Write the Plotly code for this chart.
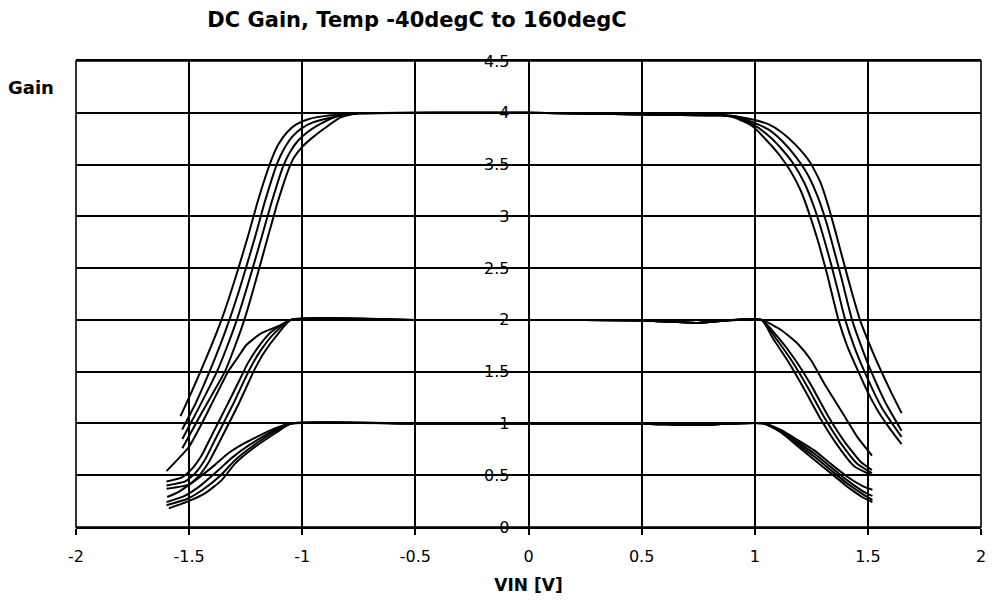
import plotly.graph_objects as go

# ---------------- data ----------------
temps = ["-40degC", "27degC", "85degC", "160degC"]

# Gain = 4 setting, one curve per temperature (T1 = widest ... T4 = narrowest)
g4_t1_x = [-1.538, -1.49, -1.45, -1.40, -1.357, -1.318, -1.282, -1.237, -1.196, -1.163, -1.132, -1.104, -1.068, -1.025, -0.97, -0.895, -0.82, -0.75,
           -0.4, 0.0, 0.3, 0.6, 0.85, 0.92, 0.99, 1.06, 1.12, 1.185, 1.245, 1.29, 1.325, 1.357, 1.39, 1.426, 1.465, 1.51, 1.56, 1.603, 1.649]
g4_t1_y = [1.07, 1.30, 1.5, 1.76, 2.0, 2.25, 2.5, 2.83, 3.15, 3.38, 3.57, 3.70, 3.81, 3.89, 3.94, 3.97, 3.985, 3.995,
           4.0, 4.0, 3.99, 3.98, 3.975, 3.965, 3.935, 3.89, 3.81, 3.68, 3.52, 3.33, 3.10, 2.85, 2.58, 2.29, 2.0, 1.75, 1.5, 1.30, 1.10]
g4_t2_x = [-1.531, -1.47, -1.41, -1.362, -1.322, -1.284, -1.249, -1.206, -1.167, -1.136, -1.109, -1.081, -1.044, -1.003, -0.95, -0.88, -0.81, -0.75,
           -0.4, 0.0, 0.3, 0.6, 0.85, 0.92, 0.99, 1.06, 1.12, 1.18, 1.235, 1.28, 1.318, 1.352, 1.385, 1.412, 1.43, 1.47, 1.515, 1.578, 1.649]
g4_t2_y = [0.94, 1.20, 1.5, 1.76, 2.0, 2.25, 2.5, 2.82, 3.13, 3.35, 3.52, 3.65, 3.77, 3.85, 3.91, 3.95, 3.98, 3.995,
           4.0, 4.0, 3.99, 3.98, 3.975, 3.962, 3.91, 3.84, 3.73, 3.58, 3.40, 3.18, 2.93, 2.66, 2.39, 2.15, 2.0, 1.75, 1.5, 1.20, 0.93]
g4_t3_x = [-1.53, -1.455, -1.377, -1.329, -1.289, -1.253, -1.219, -1.178, -1.139, -1.111, -1.085, -1.057, -1.019, -0.979, -0.922, -0.86, -0.795, -0.75,
           -0.4, 0.0, 0.3, 0.6, 0.85, 0.915, 0.99, 1.055, 1.115, 1.17, 1.22, 1.262, 1.30, 1.336, 1.368, 1.40, 1.44, 1.485, 1.562, 1.649]
g4_t3_y = [0.85, 1.16, 1.5, 1.76, 2.0, 2.25, 2.5, 2.81, 3.11, 3.31, 3.48, 3.61, 3.73, 3.81, 3.89, 3.955, 3.985, 3.995,
           4.0, 4.0, 3.99, 3.98, 3.975, 3.958, 3.89, 3.79, 3.66, 3.51, 3.32, 3.09, 2.83, 2.55, 2.28, 2.0, 1.74, 1.5, 1.15, 0.87]
g4_t4_x = [-1.53, -1.44, -1.342, -1.295, -1.256, -1.222, -1.19, -1.152, -1.115, -1.088, -1.063, -1.036, -0.996, -0.955, -0.895, -0.835, -0.78, -0.75,
           -0.4, 0.0, 0.3, 0.6, 0.85, 0.91, 0.99, 1.05, 1.11, 1.16, 1.205, 1.245, 1.285, 1.32, 1.347, 1.37, 1.41, 1.458, 1.50, 1.55, 1.60, 1.649]
g4_t4_y = [0.76, 1.12, 1.5, 1.76, 2.0, 2.25, 2.5, 2.80, 3.09, 3.28, 3.44, 3.57, 3.68, 3.76, 3.86, 3.95, 3.985, 3.995,
           4.0, 4.0, 3.99, 3.98, 3.975, 3.955, 3.87, 3.74, 3.59, 3.43, 3.24, 3.00, 2.72, 2.44, 2.20, 2.0, 1.74, 1.5, 1.30, 1.10, 0.94, 0.80]

# Gain = 2 setting
g2_t1_x = [-1.6, -1.502, -1.444, -1.40, -1.328, -1.284, -1.248, -1.182, -1.095, -1.05, -0.5, 0.0, 0.5, 0.75, 0.85, 1.03, 1.118, 1.19, 1.249, 1.307, 1.38, 1.453, 1.518]
g2_t1_y = [0.54, 0.77, 1.0, 1.19, 1.5, 1.64, 1.755, 1.87, 1.95, 2.0, 2.0, 2.0, 1.995, 1.97, 1.99, 2.0, 1.9, 1.77, 1.61, 1.386, 1.13, 0.87, 0.69]
g2_t2_x = [-1.6, -1.532, -1.488, -1.445, -1.401, -1.357, -1.313, -1.277, -1.241, -1.197, -1.139, -1.05, -0.5, 0.0, 0.5, 0.75, 0.85, 1.03, 1.10, 1.177, 1.249, 1.322, 1.395, 1.468, 1.518]
g2_t2_y = [0.44, 0.48, 0.56, 0.69, 0.88, 1.07, 1.26, 1.42, 1.58, 1.73, 1.88, 2.0, 2.0, 2.0, 1.995, 1.97, 1.99, 2.0, 1.84, 1.62, 1.37, 1.08, 0.83, 0.63, 0.55]
g2_t3_x = [-1.6, -1.517, -1.473, -1.43, -1.386, -1.342, -1.298, -1.262, -1.226, -1.182, -1.124, -1.05, -0.5, 0.0, 0.5, 0.75, 0.85, 1.03, 1.089, 1.162, 1.234, 1.307, 1.38, 1.453, 1.518]
g2_t3_y = [0.40, 0.44, 0.52, 0.65, 0.84, 1.03, 1.22, 1.39, 1.55, 1.71, 1.87, 2.0, 2.0, 2.0, 1.995, 1.97, 1.99, 2.0, 1.835, 1.61, 1.35, 1.06, 0.81, 0.61, 0.52]
g2_t4_x = [-1.6, -1.502, -1.458, -1.415, -1.371, -1.327, -1.283, -1.247, -1.211, -1.167, -1.109, -1.05, -0.5, 0.0, 0.5, 0.75, 0.85, 1.03, 1.078, 1.147, 1.219, 1.292, 1.365, 1.438, 1.518]
g2_t4_y = [0.37, 0.41, 0.49, 0.62, 0.80, 0.99, 1.18, 1.35, 1.52, 1.69, 1.86, 2.0, 2.0, 2.0, 1.995, 1.97, 1.99, 2.0, 1.83, 1.60, 1.33, 1.04, 0.79, 0.59, 0.50]

# Gain = 1 setting
g1_t1_x = [-1.597, -1.546, -1.473, -1.386, -1.328, -1.255, -1.124, -1.05, -0.5, 0.0, 0.5, 0.75, 0.85, 1.04, 1.118, 1.19, 1.263, 1.336, 1.409, 1.482, 1.52]
g1_t1_y = [0.29, 0.34, 0.45, 0.60, 0.71, 0.81, 0.95, 1.0, 1.0, 1.0, 0.998, 0.985, 0.995, 1.0, 0.935, 0.84, 0.74, 0.61, 0.485, 0.39, 0.36]
g1_t2_x = [-1.6, -1.52, -1.45, -1.37, -1.31, -1.235, -1.12, -1.05, -0.5, 0.0, 0.5, 0.75, 0.85, 1.04, 1.118, 1.19, 1.263, 1.336, 1.409, 1.482, 1.52]
g1_t2_y = [0.24, 0.30, 0.40, 0.55, 0.67, 0.79, 0.94, 1.0, 1.0, 1.0, 0.998, 0.985, 0.995, 1.0, 0.925, 0.82, 0.71, 0.58, 0.45, 0.34, 0.30]
g1_t3_x = [-1.6, -1.51, -1.44, -1.36, -1.30, -1.22, -1.115, -1.05, -0.5, 0.0, 0.5, 0.75, 0.85, 1.04, 1.118, 1.19, 1.263, 1.336, 1.409, 1.482, 1.52]
g1_t3_y = [0.21, 0.27, 0.36, 0.50, 0.64, 0.78, 0.93, 1.0, 1.0, 1.0, 0.998, 0.985, 0.995, 1.0, 0.915, 0.80, 0.68, 0.55, 0.42, 0.31, 0.26]
g1_t4_x = [-1.59, -1.502, -1.43, -1.357, -1.298, -1.211, -1.109, -1.05, -0.5, 0.0, 0.5, 0.75, 0.85, 1.04, 1.118, 1.19, 1.263, 1.336, 1.409, 1.482, 1.52]
g1_t4_y = [0.18, 0.25, 0.325, 0.45, 0.61, 0.77, 0.92, 1.0, 1.0, 1.0, 0.998, 0.985, 0.995, 1.0, 0.91, 0.78, 0.65, 0.52, 0.39, 0.28, 0.24]

x_tick_vals = [-2, -1.5, -1, -0.5, 0, 0.5, 1, 1.5, 2]
x_tick_text = ["-2", "-1.5", "-1", "-0.5", "0", "0.5", "1", "1.5", "2"]
y_tick_vals = [0, 0.5, 1, 1.5, 2, 2.5, 3, 3.5, 4, 4.5]
y_tick_text = ["0", "0.5", "1", "1.5", "2", "2.5", "3", "3.5", "4", "4.5"]

title_text = "DC Gain, Temp -40degC to 160degC"
x_title = "VIN [V]"
y_title = "Gain"

# ---------------- figure ----------------
series = [
    ("Gain 4", [(g4_t1_x, g4_t1_y), (g4_t2_x, g4_t2_y), (g4_t3_x, g4_t3_y), (g4_t4_x, g4_t4_y)]),
    ("Gain 2", [(g2_t1_x, g2_t1_y), (g2_t2_x, g2_t2_y), (g2_t3_x, g2_t3_y), (g2_t4_x, g2_t4_y)]),
    ("Gain 1", [(g1_t1_x, g1_t1_y), (g1_t2_x, g1_t2_y), (g1_t3_x, g1_t3_y), (g1_t4_x, g1_t4_y)]),
]

fig = go.Figure()
for gname, curves in series:
    for temp, (xs, ys) in zip(temps, curves):
        fig.add_trace(go.Scatter(
            x=xs, y=ys, mode="lines", name=f"{gname}, {temp}",
            line=dict(color="black", width=2, shape="spline", smoothing=0.5),
            hoverinfo="x+y+name",
        ))

tick_font = dict(family="DejaVu Sans", size=16, color="black")

# the page body adds an 8 px margin, so the figure is sized to stay
# inside the visible part of the window
W, H = 977, 587
L, R, T, B = 68, 4, 53, 68
PW, PH = W - L - R, H - T - B
fig.update_layout(
    width=W, height=H,
    margin=dict(l=L, r=R, t=T, b=B),
    plot_bgcolor="white", paper_bgcolor="white",
    showlegend=False,
    title=dict(text=f"<b>{title_text}</b>", x=409 / W, xanchor="center",
               y=1 - 12 / H, yanchor="middle",
               font=dict(family="DejaVu Sans", size=21, color="black")),
    xaxis=dict(
        range=[-2, 2], tickvals=x_tick_vals, ticktext=x_tick_text,
        showgrid=True, gridcolor="black", gridwidth=1.6,
        zeroline=True, zerolinecolor="black", zerolinewidth=1.6,
        ticks="outside", ticklen=6, tickcolor="black", tickwidth=1.6,
        tickfont=tick_font, ticklabelstandoff=8, ticklabeloverflow="allow",
        title=dict(text=f"<b>{x_title}</b>", standoff=16,
                   font=dict(family="DejaVu Sans", size=17, color="black")),
        showline=True, linecolor="black", linewidth=1.6, mirror=True,
        fixedrange=True, automargin=False,
    ),
    yaxis=dict(
        range=[0, 4.5], tickvals=y_tick_vals, ticktext=y_tick_text,
        anchor="free", position=0.5, side="left",
        showgrid=True, gridcolor="black", gridwidth=1.6,
        zeroline=False, ticks="", tickfont=tick_font, ticklabelstandoff=19,
        ticklabeloverflow="allow",
        showline=False, fixedrange=True, automargin=False,
    ),
    shapes=[dict(type="rect", xref="paper", yref="paper", x0=0, y0=0, x1=1, y1=1,
                 line=dict(color="black", width=1.6), fillcolor="rgba(0,0,0,0)", layer="above")],
    annotations=[dict(text=f"<b>{y_title}</b>", xref="paper", yref="paper",
                      x=-45 / PW, y=(466 - 27) / PH, xanchor="center", yanchor="middle",
                      showarrow=False,
                      font=dict(family="DejaVu Sans", size=18, color="black"))],
)

fig.write_html("out.html")
